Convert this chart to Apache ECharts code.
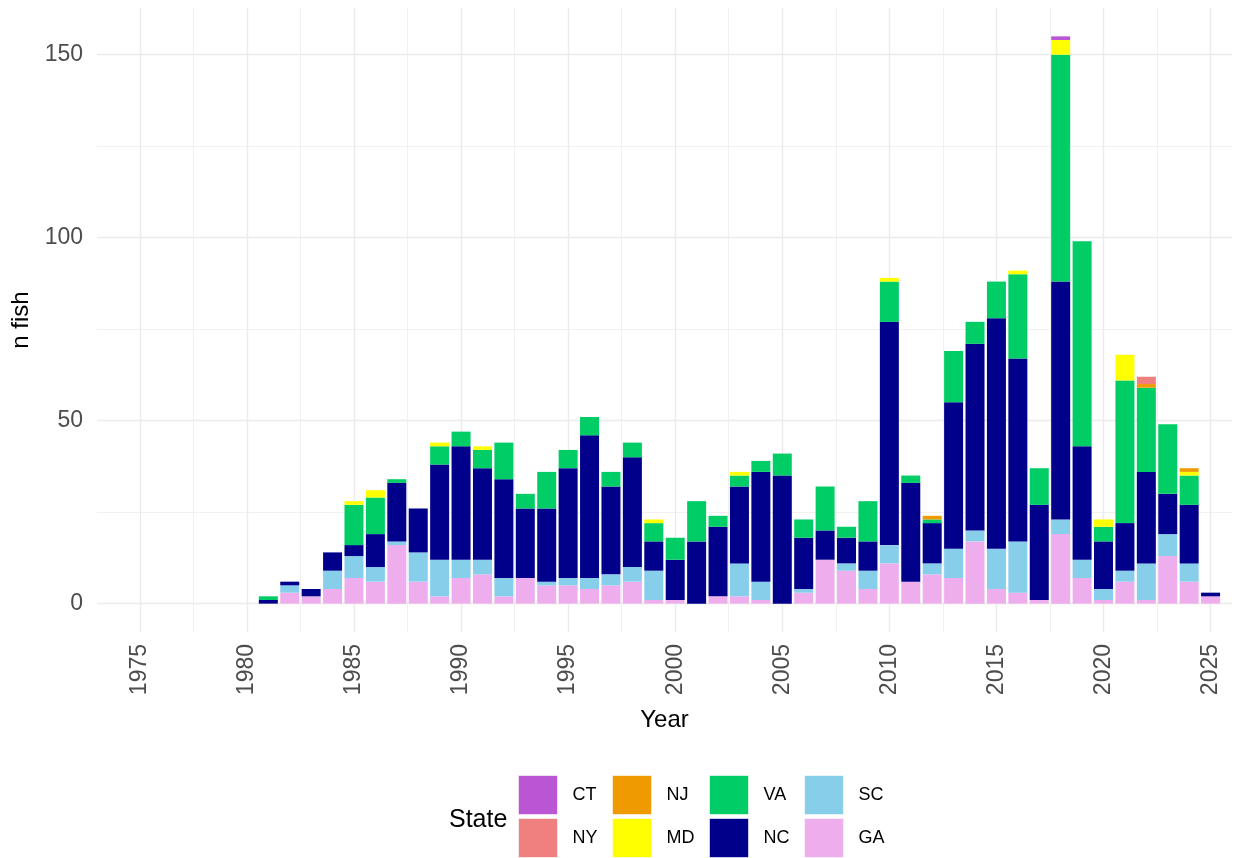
<!DOCTYPE html>
<html>
<head>
<meta charset="utf-8">
<script src="https://cdn.jsdelivr.net/npm/echarts@6/dist/echarts.min.js"></script>
<style>
  html, body { margin: 0; padding: 0; background: #fff; }
  #main { width: 1235px; height: 858px; }
</style>
</head>
<body>
<div id="main"></div>
<script>
// years with data
const years = [];
for (let y = 1981; y <= 2025; y++) years.push(y);

// fish counts per state (1981..2025)
const GA = [0,3,2,4,7,6,16,6,2,7,8,2,7,5,5,4,5,6,1,1,0,2,2,1,0,3,12,9,4,11,6,8,7,17,4,3,1,19,7,1,6,1,13,6,2];
const SC = [0,2,0,5,6,4,1,8,10,5,4,5,0,1,2,3,3,4,8,0,0,0,9,5,0,1,0,2,5,5,0,3,8,3,11,14,0,4,5,3,3,10,6,5,0];
const NC = [1,1,2,5,3,9,16,12,26,31,25,27,19,20,30,39,24,30,8,11,17,19,21,30,35,14,8,7,8,61,27,11,40,51,63,50,26,65,31,13,13,25,11,16,1];
const VA = [1,0,0,0,11,10,1,0,5,4,5,10,4,10,5,5,4,4,5,6,11,3,3,3,6,5,12,3,11,11,2,1,14,6,10,23,10,62,56,4,39,23,19,8,0];
const MD = [0,0,0,0,1,2,0,0,1,0,1,0,0,0,0,0,0,0,1,0,0,0,1,0,0,0,0,0,0,1,0,0,0,0,0,1,0,4,0,2,7,0,0,1,0];
const NJ = [0,0,0,0,0,0,0,0,0,0,0,0,0,0,0,0,0,0,0,0,0,0,0,0,0,0,0,0,0,0,0,1,0,0,0,0,0,0,0,0,0,1,0,1,0];
const NY = [0,0,0,0,0,0,0,0,0,0,0,0,0,0,0,0,0,0,0,0,0,0,0,0,0,0,0,0,0,0,0,0,0,0,0,0,0,0,0,0,0,2,0,0,0];
const CT = [0,0,0,0,0,0,0,0,0,0,0,0,0,0,0,0,0,0,0,0,0,0,0,0,0,0,0,0,0,0,0,0,0,0,0,0,0,1,0,0,0,0,0,0,0];

// stacking order, bottom to top
const states = ['GA', 'SC', 'NC', 'VA', 'MD', 'NJ', 'NY', 'CT'];
const counts = { GA, SC, NC, VA, MD, NJ, NY, CT };
const colors = {
    CT: '#BA55D3', NY: '#F08080', NJ: '#EE9A00', MD: '#FFFF00',
    VA: '#00CD66', NC: '#00008B', SC: '#87CEEB', GA: '#EEAEEE'
};

const xMajor = [1975, 1980, 1985, 1990, 1995, 2000, 2005, 2010, 2015, 2020, 2025];
const xMinor = [1977.5, 1982.5, 1987.5, 1992.5, 1997.5, 2002.5, 2007.5, 2012.5, 2017.5, 2022.5];
const yMajor = [0, 50, 100, 150];
const yMinor = [25, 75, 125];

const gridCol = '#EBEBEB';
const font = '"Liberation Sans", Arial, sans-serif';
const xMin = 1973, xMax = 2026;
const yMin = -7.75, yMax = 162.75;

// one category per year across the whole panel, used to place the bars
const allYears = [];
for (let y = xMin; y <= xMax; y++) allYears.push(String(y));

const chart = echarts.init(document.getElementById('main'));

const series = states.map(s => ({
    name: s,
    type: 'bar',
    stack: 'total',
    xAxisIndex: 2,
    barWidth: 19,
    itemStyle: { color: colors[s] },
    emphasis: { disabled: true },
    data: years.map((y, i) => [String(y), counts[s][i]])
}));

// legend laid out in columns of two, like the original
const legendCols = [['CT', 'NY'], ['NJ', 'MD'], ['VA', 'NC'], ['SC', 'GA']];
const legendLeft = [518, 612, 709, 804];
const legends = legendCols.map((col, i) => ({
    data: col,
    orient: 'vertical',
    left: legendLeft[i],
    top: 775,
    padding: 0,
    itemWidth: 39,
    itemHeight: 39,
    itemGap: 3,
    icon: 'rect',
    selectedMode: false,
    itemStyle: { borderColor: 'rgba(255,255,255,0.6)', borderWidth: 1 },
    textStyle: { fontFamily: font, fontSize: 18, color: '#000', padding: [0, 0, 0, 10] }
}));

chart.setOption({
    backgroundColor: '#fff',
    animation: false,
    grid: { left: 97, right: 3, top: 8, bottom: 226 },
    title: {
        text: 'State', left: 444, top: 803,
        textStyle: { fontFamily: font, fontSize: 25, fontWeight: 'normal', color: '#000' }
    },
    legend: legends,
    xAxis: [
        {
            type: 'value', min: xMin, max: xMax,
            name: 'Year', nameLocation: 'middle', nameGap: 76,
            nameTextStyle: { fontFamily: font, fontSize: 24, color: '#000' },
            axisLine: { show: false },
            axisTick: { show: false, customValues: xMajor },
            axisLabel: {
                customValues: xMajor, rotate: 90, margin: 12,
                formatter: v => String(v),
                fontFamily: font, fontSize: 23, color: '#4D4D4D'
            },
            splitLine: { show: true, lineStyle: { color: gridCol, width: 1.4 } }
        },
        {
            type: 'value', min: xMin, max: xMax,
            axisLine: { show: false },
            axisTick: { show: false, customValues: xMinor },
            axisLabel: { show: false },
            splitLine: { show: true, lineStyle: { color: gridCol, width: 0.7 } }
        },
        {
            type: 'category', data: allYears, boundaryGap: false,
            show: false
        }
    ],
    yAxis: [
        {
            type: 'value', min: yMin, max: yMax,
            name: 'n fish', nameLocation: 'middle', nameGap: 55,
            nameTextStyle: { fontFamily: font, fontSize: 24, color: '#000' },
            axisLine: { show: false },
            axisTick: { show: false, customValues: yMajor },
            axisLabel: {
                customValues: yMajor, margin: 14,
                fontFamily: font, fontSize: 23, color: '#4D4D4D'
            },
            splitLine: { show: true, lineStyle: { color: gridCol, width: 1.4 } }
        },
        {
            type: 'value', min: yMin, max: yMax,
            axisLine: { show: false },
            axisTick: { show: false, customValues: yMinor },
            axisLabel: { show: false },
            splitLine: { show: true, lineStyle: { color: gridCol, width: 0.7 } }
        }
    ],
    series: series
});
</script>
</body>
</html>
